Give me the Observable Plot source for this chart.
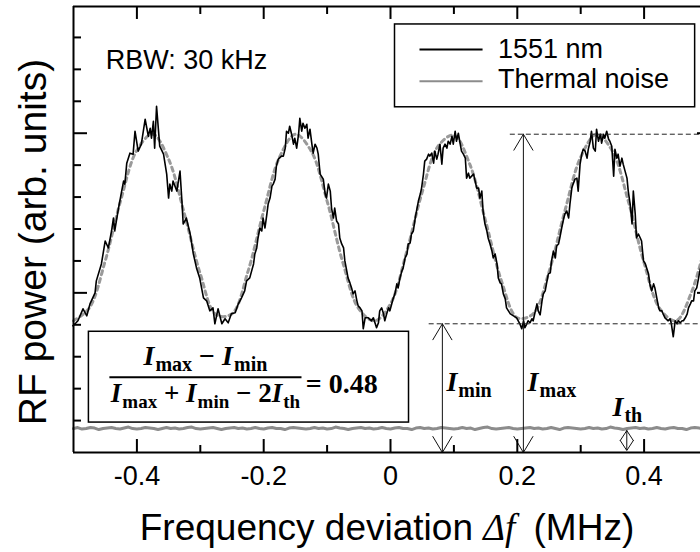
<!DOCTYPE html>
<html><head><meta charset="utf-8">
<script src="https://cdn.jsdelivr.net/npm/d3@7"></script>
<script src="https://cdn.jsdelivr.net/npm/@observablehq/plot@0.6"></script>
<style>html,body{margin:0;padding:0;background:#fff;overflow:hidden}</style>
</head><body><div id="chart"></div>
<script>
// ---------- data (x in MHz, y in arb. units) ----------
const signal = [
[-0.501,127],[-0.496,130],[-0.493,132],[-0.485,144],[-0.479,137],[-0.474,149],[-0.466,160],[-0.464,172],[-0.456,189],[-0.450,212],[-0.445,205],[-0.440,222],[-0.437,235],[-0.435,222],[-0.429,245],[-0.424,262],[-0.421,272],[-0.419,269],[-0.416,290],[-0.411,300],[-0.406,299],[-0.403,322],[-0.398,302],[-0.393,309],[-0.387,334],[-0.382,317],[-0.379,325],[-0.377,315],[-0.374,332],[-0.372,305],[-0.369,347],[-0.364,307],[-0.358,299],[-0.353,279],[-0.350,255],[-0.348,269],[-0.345,262],[-0.343,272],[-0.337,262],[-0.332,282],[-0.329,252],[-0.327,229],[-0.322,235],[-0.316,219],[-0.311,199],[-0.306,185],[-0.301,175],[-0.295,155],[-0.290,152],[-0.285,142],[-0.280,145],[-0.277,129],[-0.272,144],[-0.266,129],
[-0.261,134],[-0.256,130],[-0.251,139],[-0.245,140],[-0.240,149],[-0.235,155],[-0.230,162],[-0.227,172],[-0.222,175],[-0.219,182],[-0.216,189],[-0.214,199],[-0.211,205],[-0.209,215],[-0.206,225],[-0.203,222],[-0.201,235],[-0.198,225],[-0.195,239],[-0.193,249],[-0.190,255],[-0.187,267],[-0.185,269],[-0.182,274],[-0.180,287],[-0.177,294],[-0.172,297],[-0.169,297],[-0.166,305],[-0.164,322],[-0.161,320],[-0.159,327],[-0.156,319],[-0.153,309],[-0.151,315],[-0.148,305],[-0.145,319],[-0.143,335],[-0.140,322],[-0.138,330],[-0.135,325],[-0.132,329],[-0.130,315],[-0.127,324],[-0.124,309],[-0.122,300],[-0.119,309],[-0.116,305],[-0.114,299],[-0.111,279],[-0.109,277],[-0.106,274],[-0.103,259],[-0.101,255],[-0.098,269],[-0.095,262],[-0.093,245],[-0.090,235],[-0.088,245],[-0.085,232],[-0.082,229],[-0.080,215],[-0.077,209],[-0.074,205],[-0.072,192],[-0.069,182],[-0.067,175],[-0.064,170],[-0.061,164],[-0.059,159],[-0.056,162],[-0.053,152],[-0.051,147],[-0.048,145],[-0.045,142],[-0.043,124],[-0.040,135],[-0.035,135],[-0.030,132],[-0.027,135],[-0.024,129],[-0.022,125],[-0.019,130],
[-0.017,142],[-0.014,145],[-0.011,139],[-0.009,132],[-0.006,139],[-0.003,145],[-0.001,142],[0.002,149],[0.004,154],[0.007,159],[0.010,169],[0.012,165],[0.015,175],[0.018,182],[0.020,185],[0.023,195],[0.026,199],[0.028,209],[0.031,210],[0.033,219],[0.036,222],[0.039,235],[0.041,242],[0.044,252],[0.047,259],[0.049,265],[0.052,279],[0.054,292],[0.057,294],[0.060,299],[0.062,297],[0.065,300],[0.068,290],[0.070,302],[0.073,294],[0.075,299],[0.078,309],[0.081,289],[0.083,305],[0.086,309],[0.089,305],[0.091,312],[0.094,309],[0.097,317],[0.099,309],[0.102,322],[0.104,312],[0.107,320],[0.110,309],[0.112,302],[0.115,299],[0.118,295],[0.120,275],[0.123,280],[0.125,275],[0.131,279],[0.136,265],[0.139,265],[0.141,255],[0.144,262],[0.146,242],[0.149,229],[0.152,222],[0.154,215],[0.157,209],[0.160,202],[0.162,195],[0.165,199],[0.168,189],[0.170,175],[0.173,170],[0.175,169],[0.178,159],[0.181,154],[0.183,145],[0.186,142],[0.189,139],[0.194,137],[0.199,135],[0.204,129],[0.207,124],[0.210,132],[0.212,125],[0.215,129],[0.217,132],[0.220,130],[0.223,134],[0.225,132],
[0.231,149],[0.233,142],[0.236,138],[0.239,152],[0.241,159],[0.244,162],[0.246,169],[0.249,179],[0.252,180],[0.254,192],[0.257,202],[0.260,195],[0.262,207],[0.265,209],[0.267,215],[0.270,225],[0.273,234],[0.275,239],[0.278,242],[0.281,235],[0.283,249],[0.286,265],[0.288,269],[0.291,274],[0.294,275],[0.296,262],[0.299,289],[0.302,300],[0.304,304],[0.307,302],[0.310,295],[0.312,304],[0.315,312],[0.317,322],[0.320,305],[0.323,302],[0.325,324],[0.328,312],[0.331,319],[0.333,310],[0.336,319],[0.338,315],[0.341,322],[0.344,314],[0.346,312],[0.349,307],[0.352,277],[0.354,304],[0.357,295],[0.359,299],[0.362,287],[0.365,295],[0.367,289],[0.370,282],[0.373,275],[0.375,262],[0.378,249],[0.381,229],[0.383,262],[0.386,239],[0.388,215],[0.391,219],[0.394,215],[0.396,212],[0.399,192],[0.402,189],[0.404,185],[0.407,179],[0.409,169],[0.412,162],[0.415,169],[0.417,165],[0.420,155],[0.423,145],[0.425,142],[0.428,142],[0.430,139],[0.433,135],[0.438,132],[0.441,134],[0.443,129],[0.446,116],[0.449,132],[0.452,129],[0.454,132],[0.457,130],[0.460,132],[0.462,132],[0.465,135],[0.468,139],[0.470,145],[0.473,149],[0.475,152],[0.478,152],[0.480,162],[0.483,165],[0.486,175],[0.488,182],[0.495,200],[0.500,212]
];
// fitted curve (grey dashed), sampled every 0.025 MHz from -0.5
const fitY = [132,145,192,254,303,319,294,239,179,138,139,181,242,296,319,302,252,190,144,132,149,200,261,307,318,289,232,172,135,139,181,242,296,319,302,252,190,144,132,161,217];
// thermal noise floor, sampled evenly from -0.5 to 0.5 MHz
const noiseY = [24,25,23.5,24,25,24.5,23,24,24.5,25,24,23.5,24.5,25.5,24,23.5,24,25,24.5,24,23,24,25,24,24.5,23.5,24,25,25.5,24,23.5,24,24.5,25,24,23,24,24.5,25,24,
24.5,23.5,24,25,24,23.5,24.5,25,24,24,23,24.5,25,24.5,24,23.5,24,25,24,24.5,23.5,24,25.5,24.5,24,23,24,24.5,25,24,24.5,23.5,24,25,24,23.5,24.5,25,24,24,
23,24.5,25,24,24.5,23.5,24,25,24.5,24,23.5,24,25,24,24.5,23,24,25,25.5,24,23.5,24,24.5,25,24,23.5,24,24.5,25,24,24.5,23.5,24,25,24,23,24.5,25,24.5,24,
23.5,24,25,24,24.5,23.5,24,25.5,24.5,24,23,24,24.5,25,24,24.5,23.5,24,25,24,23.5,24.5,25,24,24,23,24.5,25,24.5,24,24];

const xTickValues = [-0.4, -0.2, 0, 0.2, 0.4];
const xTickLabels = ["-0.4", "-0.2", "0", "0.2", "0.4"];
const xMinorTicks = [-0.3, -0.1, 0.1, 0.3];
const yMajorTicks = [160, 320];
const yMinorTicks = [32, 64, 96, 128, 192, 224, 256, 288, 352, 384, 416];

// reference levels I_max / I_min and arrows
const refLevels = [{y: 319, x1: 0.189, x2: 0.5}, {y: 129, x1: 0.061, x2: 0.5}];
const arrowNames = ["min", "max", "th"];
const arrowX = [0.0818, 0.2096, 0.3727];
const arrowTop = [129, 319, 22];
const arrowBottom = [0, 0, 2];
const labelX = [0.089, 0.217, 0.351];
const labelY = [61, 61, 36];

const legendNames = ["1551 nm", "Thermal noise"];
const legendColors = ["black", "#8c8c8c"];
const ratioValue = "0.48";
const rbwText = "RBW: 30 kHz";

// ---------- build ----------
const sig = signal.map(([x, y]) => ({x, y}));
const fit = fitY.map((y, i) => ({x: -0.5 + i * 0.025, y}));
const noise = noiseY.map((y, i) => ({x: -0.5 + i / (noiseY.length - 1), y}));

const W = [0.015, 0.015, 0.0103], L = [16, 16, 10];
const heads = [];
arrowX.forEach((x, i) => {
  const t = arrowTop[i], b = arrowBottom[i];
  heads.push({x: x - W[i], y: t - L[i], z: i + "t"}, {x, y: t, z: i + "t"}, {x: x + W[i], y: t - L[i], z: i + "t"});
  heads.push({x: x - W[i], y: b + L[i], z: i + "b"}, {x, y: b, z: i + "b"}, {x: x + W[i], y: b + L[i], z: i + "b"});
});
const arrows = arrowX.map((x, i) => ({x, y1: arrowTop[i], y2: arrowBottom[i]}));

const legendBox = {x1: 0.0071, x2: 0.4805, y1: 346, y2: 429};
const legendRows = legendNames.map((n, i) => ({name: n, color: legendColors[i], y: [404, 372][i], ty: [395, 365][i]}));
const formulaBox = {x1: -0.4757, x2: 0.0292, y1: 30, y2: 121};

const XT = 8 / 634, XM = 14 / 634, XR = 10 / 634;

const chart = Plot.plot({
  width: 700, height: 552,
  marginLeft: 73, marginRight: 0, marginTop: 6, marginBottom: 100,
  x: {domain: [-0.5, 0.5], range: [73, 707], axis: null},
  y: {domain: [0, 447], range: [452, 6], axis: null},
  style: {fontFamily: "'Liberation Sans', Arial, sans-serif", background: "white", color: "black", overflow: "visible"},
  marks: [
    Plot.line(noise, {x: "x", y: "y", stroke: "#8c8c8c", strokeWidth: 3}),
    Plot.line(fit, {x: "x", y: "y", stroke: "#9a9a9a", strokeWidth: 3, strokeDasharray: "4,4", curve: "catmull-rom"}),
    Plot.line(sig, {x: "x", y: "y", stroke: "black", strokeWidth: 1.6}),
    Plot.ruleY(refLevels, {y: "y", x1: "x1", x2: "x2", stroke: "#222", strokeWidth: 1, strokeDasharray: "5,3"}),
    Plot.ruleX(arrows, {x: "x", y1: "y1", y2: "y2", stroke: "#111", strokeWidth: 1}),
    Plot.line(heads, {x: "x", y: "y", z: "z", stroke: "#111", strokeWidth: 1}),
    // formula box
    Plot.rect([formulaBox], {x1: "x1", x2: "x2", y1: "y1", y2: "y2", fill: "white", stroke: "black", strokeWidth: 1.5}),
    // legend
    Plot.rect([legendBox], {x1: "x1", x2: "x2", y1: "y1", y2: "y2", fill: "white", stroke: "black", strokeWidth: 1.5}),
    Plot.ruleY(legendRows, {y: "y", x1: 0.0465, x2: 0.146, stroke: "color", strokeWidth: 2}),
    Plot.text(legendRows, {x: 0.1696, y: "ty", text: "name", textAnchor: "start", lineAnchor: "bottom", fontSize: 27}),
    Plot.text([rbwText], {x: -0.449, y: 384, text: d => d, textAnchor: "start", lineAnchor: "bottom", fontSize: 27}),
    // frame
    Plot.ruleY([0, 447], {stroke: "black", strokeWidth: 2}),
    Plot.ruleX([-0.5], {stroke: "black", strokeWidth: 2}),
    // ticks (inward)
    Plot.ruleX(xTickValues, {x: d => d, y1: 0, y2: 13, stroke: "black", strokeWidth: 2}),
    Plot.ruleX(xMinorTicks, {x: d => d, y1: 0, y2: 7, stroke: "black", strokeWidth: 2}),
    Plot.ruleX(xTickValues, {x: d => d, y1: 434, y2: 447, stroke: "black", strokeWidth: 2}),
    Plot.ruleX(xMinorTicks, {x: d => d, y1: 439, y2: 447, stroke: "black", strokeWidth: 2}),
    Plot.ruleY(yMajorTicks, {y: d => d, x1: -0.5, x2: -0.5 + XM, stroke: "black", strokeWidth: 2}),
    Plot.ruleY(yMinorTicks, {y: d => d, x1: -0.5, x2: -0.5 + XT, stroke: "black", strokeWidth: 2}),
    Plot.ruleY(yMajorTicks, {y: d => d, x1: 0.5 - XR, x2: 0.5, stroke: "black", strokeWidth: 2}),
    // tick labels
    Plot.text(xTickValues, {x: d => d, y: 0, text: (d, i) => xTickLabels[i], dy: 32, lineAnchor: "bottom", fontSize: 27})
  ]
});
document.getElementById("chart").appendChild(chart);

// ---------- text with math (positioned through the plot's scales) ----------
let X, Y;
try { X = chart.scale("x").apply; Y = chart.scale("y").apply; } catch (e) {}
if (!X) { X = d3.scaleLinear([-0.5, 0.5], [73, 707]); Y = d3.scaleLinear([0, 447], [452, 6]); }
const svg = d3.select(chart);
const SERIF = "'Liberation Serif', 'Times New Roman', serif";
const SANS = "'Liberation Sans', Arial, sans-serif";

function mathText(x, y, parts, anchor, big, small) {
  const t = svg.append("text").attr("x", x).attr("y", y).attr("text-anchor", anchor)
    .attr("font-family", SERIF).attr("font-weight", "bold").attr("font-size", big).attr("fill", "black");
  let shifted = false;
  for (const p of parts) {
    const s = t.append("tspan").text(p[0]);
    if (p[1] === "I") s.attr("font-style", "italic");
    if (p[1] === "sub") { s.attr("font-size", small).attr("dx", 1); if (!shifted) { s.attr("dy", 6); shifted = true; } }
    else if (shifted) { s.attr("dy", -6); shifted = false; }
  }
  return t;
}
const I = ["I", "I"], sub = n => [n, "sub"], op = o => [o, "op"];

// formula
const fracX1 = X(-0.4426), fracX2 = X(-0.1396), fracY = Y(75);
svg.append("line").attr("x1", fracX1).attr("x2", fracX2).attr("y1", fracY).attr("y2", fracY)
  .attr("stroke", "black").attr("stroke-width", 2);
mathText((fracX1 + fracX2) / 2, Y(87), [I, sub("max"), op(" \u2212 "), I, sub("min")], "middle", 28, 20);
mathText((fracX1 + fracX2) / 2, Y(50), [I, sub("max"), op(" + "), I, sub("min"), op(" \u2212 2"), I, sub("th")], "middle", 27, 19);
mathText(X(-0.133), Y(59), [op("= " + ratioValue)], "start", 28, 20);

// arrow labels
arrowNames.forEach((n, i) => mathText(X(labelX[i]), Y(labelY[i]), [I, sub(n)], "start", 28, 20));

// axis titles
const xt = svg.append("text").attr("x", 387).attr("y", 540).attr("text-anchor", "middle")
  .attr("font-family", SANS).attr("font-size", 37).attr("fill", "black");
xt.append("tspan").text("Frequency deviation ");
xt.append("tspan").text("\u0394f").attr("font-family", SERIF).attr("font-style", "italic");
xt.append("tspan").text(" (MHz)").attr("dx", 8);
svg.append("text").attr("transform", "translate(46,242) rotate(-90)").attr("text-anchor", "middle")
  .attr("font-family", SANS).attr("font-size", 39).attr("fill", "black")
  .text("RF power (arb. units)");
</script>
</body></html>
